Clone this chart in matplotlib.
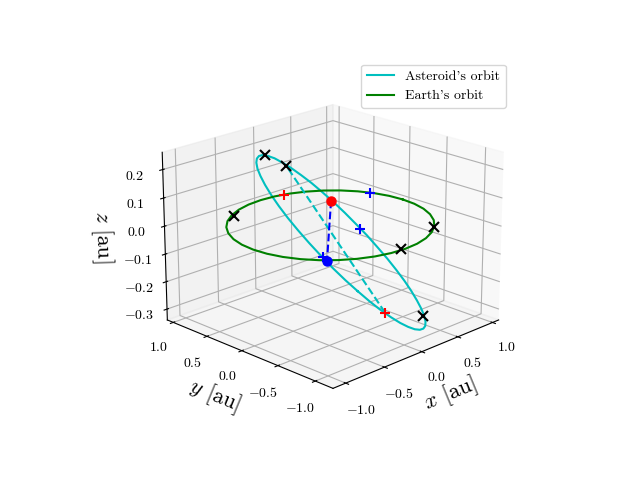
import matplotlib
matplotlib.use('Agg')
import matplotlib.pyplot as plt

plt.rcParams.update({'font.family': 'cmr10', 'mathtext.fontset': 'cm', 'mathtext.default': 'rm',
                     'axes.formatter.use_mathtext': True, 'axes.unicode_minus': True})

asteroid_x = [-0.585,-0.671,-0.746,-0.807,-0.854,-0.886,-0.902,-0.901,-0.884,-0.851,-0.803,-0.741,-0.665,-0.577,-0.480,-0.375,-0.263,-0.148,-0.031,0.085,0.199,0.307,0.408,0.500,0.581,0.649,0.703,0.743,0.766,0.774,0.765,0.740,0.699,0.644,0.575,0.493,0.400,0.299,0.190,0.076,-0.040,-0.157,-0.272,-0.383,-0.488,-0.585]
asteroid_y = [-0.962,-0.890,-0.805,-0.709,-0.604,-0.491,-0.373,-0.252,-0.131,-0.011,0.104,0.213,0.313,0.403,0.481,0.545,0.593,0.626,0.643,0.642,0.625,0.590,0.541,0.476,0.397,0.307,0.205,0.096,-0.020,-0.139,-0.261,-0.381,-0.499,-0.611,-0.716,-0.812,-0.896,-0.966,-1.023,-1.064,-1.088,-1.096,-1.087,-1.061,-1.019,-0.962]
asteroid_z = [-0.094,-0.055,-0.015,0.025,0.063,0.099,0.132,0.162,0.188,0.210,0.227,0.238,0.245,0.245,0.240,0.230,0.214,0.194,0.168,0.139,0.106,0.071,0.033,-0.006,-0.046,-0.086,-0.124,-0.162,-0.196,-0.228,-0.256,-0.280,-0.300,-0.314,-0.323,-0.326,-0.324,-0.316,-0.303,-0.285,-0.262,-0.235,-0.204,-0.170,-0.133,-0.094]

earth_x = [1.000,0.985,0.940,0.866,0.766,0.643,0.500,0.342,0.174,0.000,-0.174,-0.342,-0.500,-0.643,-0.766,-0.866,-0.940,-0.985,-1.000,-0.985,-0.940,-0.866,-0.766,-0.643,-0.500,-0.342,-0.174,0.000,0.174,0.342,0.500,0.643,0.766,0.866,0.940,0.985,1.000]
earth_y = [0.000,0.174,0.342,0.500,0.643,0.766,0.866,0.940,0.985,1.000,0.985,0.940,0.866,0.766,0.643,0.500,0.342,0.174,0.000,-0.174,-0.342,-0.500,-0.643,-0.766,-0.866,-0.940,-0.985,-1.000,-0.985,-0.940,-0.866,-0.766,-0.643,-0.500,-0.342,-0.174,0.000]
earth_z = [0.0] * 37

# marker positions (x, y, z)
red_dot = (0.467, 0.475, 0.002)
blue_dot = (-0.739, -0.717, 0.0)
red_plus = [(0.280, 0.960, 0.0), (-0.328, -1.063, -0.184)]
blue_plus = [(-0.692, -0.616, 0.0), (0.924, 0.385, 0.0), (0.628, 0.234, -0.098)]
black_cross = [(-0.490, 0.843, 0.0), (0.633, -0.771, 0.0), (-0.042, -0.984, 0.0),
               (-0.321, 0.571, 0.223), (0.003, 0.626, 0.156), (0.543, -0.737, -0.320)]
chord_ends = [(-0.328, -1.063, -0.184), (0.003, 0.626, 0.156)]

xy_ticks = [-1.0, -0.5, 0.0, 0.5, 1.0]
z_ticks = [-0.3, -0.2, -0.1, 0.0, 0.1, 0.2]

fig = plt.figure(figsize=(6.4, 4.8), dpi=100)
ax = fig.add_subplot(projection='3d')
ax.computed_zorder = False

ax.plot(asteroid_x, asteroid_y, asteroid_z, color='c', label="Asteroid's orbit")
ax.plot(earth_x, earth_y, earth_z, color='g', label="Earth's orbit")
ax.plot(*zip(*chord_ends), color='c', ls='--', lw=1.5)
ax.plot(*zip(red_dot, blue_dot), color='b', ls='--', lw=1.5)
ax.plot(*zip(*black_cross), ls='none', marker='x', color='k', ms=7, mew=1.5)
ax.plot(*zip(*red_plus), ls='none', marker='+', color='r', ms=7.5, mew=1.5)
ax.plot(*zip(*blue_plus), ls='none', marker='+', color='b', ms=7.5, mew=1.5)
ax.plot(*zip(red_dot), ls='none', marker='o', color='r', ms=6.5)
ax.plot(*zip(blue_dot), ls='none', marker='o', color='b', ms=6.5)

ax.set_xlim(-1.16, 1.09)
ax.set_ylim(-1.23, 1.09)
ax.set_zlim(-0.34, 0.26)
ax.set_xticks(xy_ticks)
ax.set_yticks(xy_ticks)
ax.set_zticks(z_ticks)
ax.view_init(elev=20, azim=-135)
ax.set_xlabel(r'$\mathit{x}$ [au]', fontsize=16, labelpad=3)
ax.set_ylabel(r'$\mathit{y}$ [au]', fontsize=16, labelpad=4)
ax.set_zlabel(r'$\mathit{z}$ [au]', fontsize=16, labelpad=5)
ax.legend(loc='upper right')
fig.savefig('out.png')
